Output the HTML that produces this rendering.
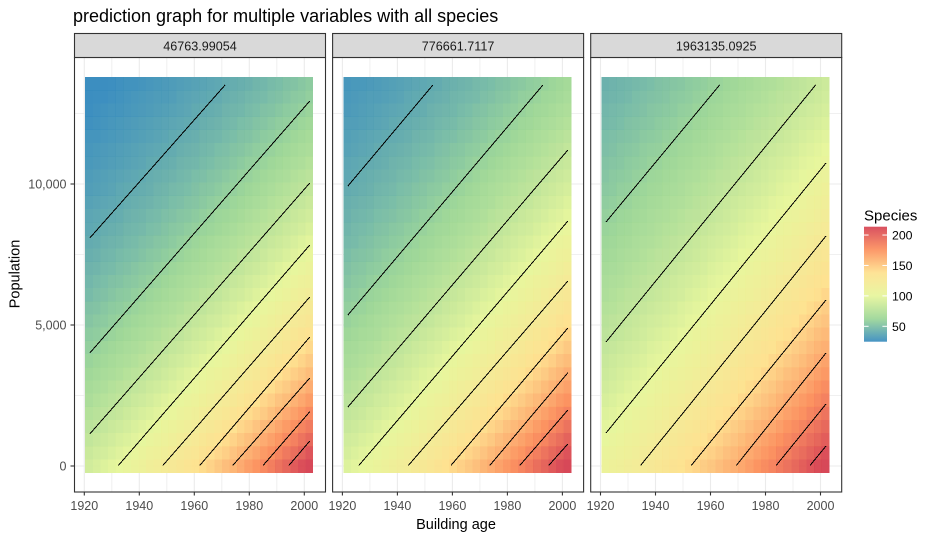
<!DOCTYPE html>
<html lang="en">
<head>
<meta charset="utf-8">
<title>prediction graph for multiple variables with all species</title>
<style>
html,body{margin:0;padding:0;background:#fff;}
svg{display:block;font-family:"Liberation Sans",Arial,sans-serif;}
</style>
</head>
<body>
<svg id="chart" width="932" height="539" viewBox="0 0 932 539" xmlns="http://www.w3.org/2000/svg">
<rect x="0" y="0" width="932" height="539" fill="#ffffff"/>
<text x="73" y="22" font-size="18" fill="#000000">prediction graph for multiple variables with all species</text>
<text x="456" y="529" font-size="14.5" text-anchor="middle" fill="#000000">Building age</text>
<text x="0" y="0" transform="translate(19.5,274) rotate(-90)" font-size="14.5" text-anchor="middle" fill="#000000">Population</text>
<text x="864" y="220.5" font-size="15" fill="#000000">Species</text>
<g id="panels"></g>
<g id="legend"></g>
</svg>
<script>
// ---------- categories and tick labels ----------
const facetLabels = ["46763.99054", "776661.7117", "1963135.0925"];
const xTicks = [1920, 1940, 1960, 1980, 2000];
const xMinorGrid = [1930, 1950, 1970, 1990];
const yTicks = [0, 5000, 10000];
const yTickLabels = ["0", "5,000", "10,000"];
const yMinorGrid = [2500, 7500, 12500];
const legendBreaks = [50, 100, 150, 200];
const colorStops = ["#3288BD", "#99D594", "#E6F598", "#FEE08B", "#FC8D59", "#D53E4F"];
const speciesMin = 24.7;
const speciesMax = 213.7;
const contourLevels = [40, 60, 80, 100, 120, 140, 160, 180, 200];
const ageStart = 1921.7;
const ageStep = 2.762;
const popStart = 0;
const popStep = 467.6;

// ---------- heatmap values, rows run from population 0 upward ----------
const speciesPanel1 = [
[89,92,95,98,101,104,107,110,114,117,121,125,129,133,137,141,145,150,155,159,164,170,175,180,186,192,198,204,210,217],
[85,88,90,93,96,99,102,105,109,112,115,119,123,127,130,134,139,143,147,152,157,162,167,172,177,183,189,194,200,207],
[81,84,86,89,92,94,97,100,104,107,110,113,117,121,124,128,132,136,141,145,150,154,159,164,169,174,180,185,191,197],
[77,80,82,85,87,90,93,96,99,102,105,108,112,115,119,122,126,130,134,138,143,147,152,157,161,167,172,177,183,188],
[74,76,78,81,83,86,89,92,94,97,100,103,107,110,113,117,121,124,128,132,136,141,145,149,154,159,164,169,174,180],
[70,73,75,77,80,82,85,87,90,93,96,99,102,105,108,112,115,119,122,126,130,134,138,143,147,152,156,161,166,171],
[67,69,71,74,76,78,81,83,86,88,91,94,97,100,103,106,110,113,117,120,124,128,132,136,140,145,149,154,158,163],
[64,66,68,70,72,75,77,79,82,84,87,90,93,96,99,102,105,108,111,115,118,122,126,130,134,138,142,147,151,156],
[61,63,65,67,69,71,73,76,78,81,83,86,88,91,94,97,100,103,106,109,113,116,120,124,128,132,136,140,144,149],
[58,60,62,64,66,68,70,72,75,77,79,82,84,87,90,92,95,98,101,104,108,111,115,118,122,126,129,134,138,142],
[56,57,59,61,63,65,67,69,71,73,76,78,80,83,86,88,91,94,97,100,103,106,109,113,116,120,124,128,132,136],
[53,55,56,58,60,62,64,66,68,70,72,74,77,79,82,84,87,89,92,95,98,101,104,108,111,114,118,122,125,129],
[51,52,54,56,57,59,61,63,65,67,69,71,73,76,78,80,83,85,88,91,94,97,100,103,106,109,113,116,120,123],
[48,50,51,53,55,56,58,60,62,64,66,68,70,72,74,77,79,81,84,87,89,92,95,98,101,104,107,111,114,118],
[46,48,49,51,52,54,55,57,59,61,63,65,67,69,71,73,75,78,80,83,85,88,91,93,96,99,102,106,109,112],
[44,45,47,48,50,51,53,55,56,58,60,62,64,66,68,70,72,74,76,79,81,84,86,89,92,95,98,101,104,107],
[42,43,45,46,48,49,50,52,54,55,57,59,61,63,65,67,69,71,73,75,78,80,82,85,88,90,93,96,99,102],
[40,41,43,44,45,47,48,50,51,53,54,56,58,60,62,64,66,68,70,72,74,76,79,81,84,86,89,92,95,98],
[38,39,41,42,43,45,46,47,49,50,52,54,55,57,59,61,62,64,66,68,71,73,75,77,80,82,85,87,90,93],
[37,38,39,40,41,43,44,45,47,48,50,51,53,54,56,58,60,62,63,65,67,70,72,74,76,79,81,84,86,89],
[35,36,37,38,39,41,42,43,44,46,47,49,50,52,53,55,57,59,60,62,64,66,68,70,73,75,77,80,82,85],
[33,34,35,36,38,39,40,41,42,44,45,47,48,49,51,53,54,56,58,59,61,63,65,67,69,72,74,76,78,81],
[32,33,34,35,36,37,38,39,41,42,43,44,46,47,49,50,52,53,55,57,59,60,62,64,66,68,70,73,75,77],
[30,31,32,33,34,35,36,37,39,40,41,42,44,45,46,48,49,51,52,54,56,58,59,61,63,65,67,69,71,74],
[29,30,31,32,33,34,35,36,37,38,39,40,42,43,44,46,47,49,50,52,53,55,57,58,60,62,64,66,68,70],
[28,28,29,30,31,32,33,34,35,36,37,39,40,41,42,44,45,46,48,49,51,52,54,56,57,59,61,63,65,67],
[26,27,28,29,30,31,32,33,34,35,36,37,38,39,40,42,43,44,46,47,49,50,52,53,55,57,58,60,62,64],
[25,26,27,28,28,29,30,31,32,33,34,35,36,37,39,40,41,42,44,45,46,48,49,51,52,54,56,57,59,61],
[24,25,25,26,27,28,29,30,31,32,32,33,35,36,37,38,39,40,42,43,44,46,47,48,50,51,53,55,56,58],
[23,24,24,25,26,27,27,28,29,30,31,32,33,34,35,36,37,38,40,41,42,43,45,46,48,49,51,52,54,56]
];
const speciesPanel2 = [
[95,98,101,103,106,110,113,116,119,123,126,130,134,138,142,146,150,154,159,163,168,173,178,183,188,194,199,205,211,217],
[91,94,97,99,102,105,108,111,114,118,121,125,128,132,136,140,144,148,152,157,161,166,171,175,181,186,191,197,202,208],
[88,90,93,95,98,101,104,107,110,113,116,120,123,127,130,134,138,142,146,150,155,159,164,168,173,178,183,189,194,200],
[84,86,89,91,94,97,100,102,105,108,112,115,118,121,125,129,132,136,140,144,148,153,157,161,166,171,176,181,186,192],
[81,83,85,88,90,93,95,98,101,104,107,110,113,117,120,123,127,131,134,138,142,146,151,155,159,164,169,174,179,184],
[77,80,82,84,87,89,92,94,97,100,103,106,109,112,115,118,122,125,129,133,137,141,145,149,153,157,162,167,172,176],
[74,76,79,81,83,86,88,91,93,96,99,102,104,107,111,114,117,120,124,127,131,135,139,143,147,151,156,160,165,169],
[71,73,75,78,80,82,84,87,89,92,95,97,100,103,106,109,112,115,119,122,126,129,133,137,141,145,149,154,158,163],
[68,70,72,74,76,79,81,83,86,88,91,93,96,99,102,105,108,111,114,117,121,124,128,131,135,139,143,147,152,156],
[66,67,69,71,73,76,78,80,82,85,87,90,92,95,98,100,103,106,109,112,116,119,122,126,130,133,137,141,145,150],
[63,65,67,68,70,73,75,77,79,81,84,86,89,91,94,96,99,102,105,108,111,114,118,121,125,128,132,136,140,144],
[60,62,64,66,68,70,72,74,76,78,80,82,85,87,90,92,95,98,101,104,107,110,113,116,119,123,126,130,134,138],
[58,60,61,63,65,67,69,71,73,75,77,79,81,84,86,89,91,94,97,99,102,105,108,111,115,118,121,125,128,132],
[56,57,59,61,62,64,66,68,70,72,74,76,78,81,83,85,88,90,93,95,98,101,104,107,110,113,117,120,123,127],
[53,55,56,58,60,61,63,65,67,69,71,73,75,77,79,82,84,86,89,92,94,97,100,103,106,109,112,115,118,122],
[51,53,54,56,57,59,61,62,64,66,68,70,72,74,76,78,81,83,85,88,90,93,96,98,101,104,107,110,113,117],
[49,51,52,53,55,57,58,60,62,63,65,67,69,71,73,75,77,80,82,84,87,89,92,94,97,100,103,106,109,112],
[47,48,50,51,53,54,56,57,59,61,63,64,66,68,70,72,74,76,79,81,83,86,88,91,93,96,99,102,105,108],
[45,47,48,49,51,52,54,55,57,58,60,62,64,65,67,69,71,73,75,78,80,82,85,87,89,92,95,97,100,103],
[43,45,46,47,49,50,51,53,54,56,58,59,61,63,65,66,68,70,72,75,77,79,81,84,86,88,91,94,96,99],
[42,43,44,45,47,48,49,51,52,54,55,57,59,60,62,64,66,67,69,71,74,76,78,80,82,85,87,90,92,95],
[40,41,42,43,45,46,47,49,50,52,53,55,56,58,59,61,63,65,67,69,71,73,75,77,79,81,84,86,89,91],
[38,39,41,42,43,44,45,47,48,49,51,52,54,55,57,59,60,62,64,66,68,70,72,74,76,78,80,83,85,87],
[37,38,39,40,41,42,44,45,46,48,49,50,52,53,55,56,58,60,61,63,65,67,69,71,73,75,77,79,82,84],
[35,36,37,38,40,41,42,43,44,46,47,48,50,51,53,54,56,57,59,61,62,64,66,68,70,72,74,76,78,81],
[34,35,36,37,38,39,40,41,42,44,45,46,48,49,50,52,53,55,56,58,60,61,63,65,67,69,71,73,75,77],
[33,33,34,35,36,37,39,40,41,42,43,44,46,47,48,50,51,53,54,56,57,59,61,63,64,66,68,70,72,74],
[31,32,33,34,35,36,37,38,39,40,41,43,44,45,46,48,49,51,52,54,55,57,58,60,62,64,65,67,69,71],
[30,31,32,33,33,34,35,36,38,39,40,41,42,43,45,46,47,48,50,51,53,54,56,58,59,61,63,64,66,68],
[29,30,30,31,32,33,34,35,36,37,38,39,40,42,43,44,45,47,48,49,51,52,54,55,57,58,60,62,64,66]
];
const speciesPanel3 = [
[108,111,113,116,119,122,125,128,131,134,137,141,144,148,151,155,159,162,166,170,175,179,183,188,192,197,202,207,212,217],
[105,107,110,112,115,118,121,124,127,130,133,136,140,143,146,150,154,157,161,165,169,173,177,182,186,191,195,200,205,210],
[101,104,106,109,112,114,117,120,123,126,129,132,135,138,142,145,149,152,156,160,164,168,172,176,180,185,189,194,198,203],
[98,100,103,105,108,111,113,116,119,122,125,128,131,134,137,141,144,148,151,155,159,162,166,170,175,179,183,188,192,197],
[95,97,100,102,105,107,110,112,115,118,121,124,127,130,133,136,139,143,146,150,154,157,161,165,169,173,177,182,186,191],
[92,94,97,99,101,104,106,109,112,114,117,120,123,126,129,132,135,138,142,145,149,152,156,160,164,168,172,176,180,185],
[89,91,93,96,98,101,103,105,108,111,113,116,119,122,125,128,131,134,137,141,144,148,151,155,159,162,166,170,175,179],
[86,88,91,93,95,97,100,102,105,107,110,112,115,118,121,124,127,130,133,136,139,143,146,150,154,157,161,165,169,173],
[84,86,88,90,92,94,97,99,101,104,106,109,112,114,117,120,123,126,129,132,135,138,142,145,149,152,156,160,164,168],
[81,83,85,87,89,91,94,96,98,101,103,105,108,111,113,116,119,122,125,128,131,134,137,141,144,148,151,155,159,162],
[78,80,82,84,86,88,91,93,95,97,100,102,105,107,110,112,115,118,121,124,127,130,133,136,139,143,146,150,154,157],
[76,78,80,82,84,86,88,90,92,94,96,99,101,104,106,109,111,114,117,120,123,126,129,132,135,138,142,145,149,152],
[74,75,77,79,81,83,85,87,89,91,94,96,98,101,103,106,108,111,113,116,119,122,125,128,131,134,137,141,144,148],
[71,73,75,77,78,80,82,84,86,88,90,93,95,97,100,102,105,107,110,112,115,118,121,124,127,130,133,136,139,143],
[69,71,72,74,76,78,80,82,84,86,88,90,92,94,97,99,101,104,106,109,112,114,117,120,123,126,129,132,135,138],
[67,68,70,72,74,75,77,79,81,83,85,87,89,91,94,96,98,100,103,105,108,111,113,116,119,122,125,128,131,134],
[65,66,68,70,71,73,75,77,78,80,82,84,86,88,91,93,95,97,100,102,105,107,110,112,115,118,121,124,127,130],
[63,64,66,67,69,71,72,74,76,78,80,82,84,86,88,90,92,94,97,99,101,104,106,109,112,114,117,120,123,126],
[61,62,64,65,67,68,70,72,74,75,77,79,81,83,85,87,89,91,94,96,98,101,103,105,108,111,113,116,119,122],
[59,60,62,63,65,66,68,70,71,73,75,77,78,80,82,84,86,88,91,93,95,97,100,102,105,107,110,112,115,118],
[57,58,60,61,63,64,66,67,69,71,72,74,76,78,80,82,84,86,88,90,92,94,97,99,101,104,106,109,111,114],
[55,56,58,59,61,62,64,65,67,68,70,72,74,75,77,79,81,83,85,87,89,91,93,96,98,100,103,105,108,111],
[53,55,56,57,59,60,62,63,65,66,68,70,71,73,75,77,78,80,82,84,86,88,91,93,95,97,100,102,105,107],
[52,53,54,56,57,58,60,61,63,64,66,67,69,71,72,74,76,78,80,82,84,86,88,90,92,94,97,99,101,104],
[50,51,53,54,55,57,58,59,61,62,64,65,67,68,70,72,74,75,77,79,81,83,85,87,89,91,94,96,98,101],
[49,50,51,52,53,55,56,57,59,60,62,63,65,66,68,70,71,73,75,77,78,80,82,84,86,88,91,93,95,97],
[47,48,49,51,52,53,54,56,57,58,60,61,63,64,66,67,69,71,72,74,76,78,80,82,84,86,88,90,92,94],
[46,47,48,49,50,51,53,54,55,56,58,59,61,62,64,65,67,68,70,72,74,75,77,79,81,83,85,87,89,91],
[44,45,46,47,49,50,51,52,53,55,56,57,59,60,62,63,65,66,68,70,71,73,75,77,78,80,82,84,86,88],
[43,44,45,46,47,48,49,51,52,53,54,56,57,58,60,61,63,64,66,67,69,71,72,74,76,78,80,82,84,86]
];

// ---------- contour lines as [building age, population] ----------
const contoursPanel1 = [
[[1922,8085],[1934,9409],[1947,10842],[1959,12166],[1971.2,13510]],
[[1922,4007],[1942,6241],[1962,8475],[1982,10709],[2002,12943]],
[[1922,1135],[1942,3360],[1962,5585],[1982,7810],[2002,10035]],
[[1932.4,20],[1950,1997],[1967,3906],[1985,5928],[2002,7837]],
[[1948.6,20],[1962,1519],[1975,2974],[1989,4540],[2002,5993]],
[[1962,20],[1972,1159],[1982,2297],[1992,3436],[2002,4574]],
[[1974,20],[1981,795],[1988,1570],[1995,2346],[2002,3121]],
[[1985,20],[1989,468],[1994,1028],[1998,1476],[2002,1926]],
[[1994.4,20],[1996,202],[1998,430],[2000,659],[2002,887]]
];
const contoursPanel2 = [
[[1922,9929],[1930,10856],[1938,11783],[1945,12595],[1952.9,13510]],
[[1922,5355],[1940,7425],[1957,9380],[1975,11450],[1992.9,13510]],
[[1922,2092],[1942,4370],[1962,6648],[1982,8928],[2002,11206]],
[[1926,20],[1945,2186],[1964,4352],[1983,6518],[2002,8688]],
[[1944,20],[1958,1599],[1973,3291],[1987,4870],[2002,6560]],
[[1959.5,20],[1970,1224],[1981,2486],[1991,3633],[2002,4894]],
[[1973.6,20],[1981,877],[1988,1688],[1995,2498],[2002,3309]],
[[1984.5,20],[1989,525],[1993,975],[1998,1536],[2002,1986]],
[[1995,20],[1997,237],[1998.5,400],[2000,563],[2002,780]]
];
const contoursPanel3 = [
[[1922,8652],[1932,9828],[1943,11122],[1953,12298],[1963.3,13510]],
[[1922,4397],[1941,6669],[1960,8942],[1979,11214],[1998.2,13510]],
[[1922,1170],[1942,3564],[1962,5958],[1982,8352],[2002,10745]],
[[1934.6,20],[1951,2000],[1968,4052],[1985,6104],[2002,8156]],
[[1953,20],[1965,1456],[1978,3013],[1990,4449],[2002,5887]],
[[1969.4,20],[1977,949],[1986,2050],[1994,3028],[2002,4007]],
[[1983.9,20],[1988,514],[1993,1116],[1998,1718],[2002,2199]],
[[1996.2,20],[1998,234],[1999,353],[2000.5,531],[2002,709]]
];
const panelValues = [speciesPanel1, speciesPanel2, speciesPanel3];
const panelContours = [contoursPanel1, contoursPanel2, contoursPanel3];

// ---------- layout and scales ----------
const NS = "http://www.w3.org/2000/svg";
const panelOffset = 258.1;
const panelLeft = 74.5, panelWidth = 251, stripTop = 33.5, stripBottom = 57.5, panelBottom = 492;
const pxPerYear = 2.75, xAt1920 = 84.3, pxPerPop = 0.0282, yAt0 = 466;
const cellW = ageStep * pxPerYear, cellH = popStep * pxPerPop;
function xScale(age, p) { return xAt1920 + p * panelOffset + (age - 1920) * pxPerYear; }
function yScale(pop) { return yAt0 - pop * pxPerPop; }
function hexRgb(h) { return [1, 3, 5].map(function (k) { return parseInt(h.substr(k, 2), 16); }); }
function colorFor(v) {
  var t = Math.max(0, Math.min(1, (v - speciesMin) / (speciesMax - speciesMin))) * (colorStops.length - 1);
  var k = Math.min(colorStops.length - 2, Math.floor(t));
  var a = hexRgb(colorStops[k]), b = hexRgb(colorStops[k + 1]), f = t - k;
  return "rgb(" + a.map(function (c, n) { return Math.round(c + (b[n] - c) * f); }).join(",") + ")";
}
function make(parent, tag, attrs, text) {
  var el = document.createElementNS(NS, tag);
  for (var key in attrs) el.setAttribute(key, attrs[key]);
  if (text !== undefined) el.textContent = text;
  parent.appendChild(el);
  return el;
}
var panelsRoot = document.getElementById("panels");
facetLabels.forEach(function (label, p) {
  var g = make(panelsRoot, "g", {});
  
  
  var left = panelLeft + p * panelOffset;

  var bg = make(g, "rect", { x: left, y: stripBottom, width: panelWidth, height: panelBottom - stripBottom, fill: "#ffffff" });
  
  

  xMinorGrid.forEach(function (t) {
    var l = make(g, "line", { x1: xScale(t, p), x2: xScale(t, p), y1: stripBottom, y2: panelBottom, stroke: "#f0f0f0", "stroke-width": 1 });
    
    
  });
  yMinorGrid.forEach(function (t) {
    var l = make(g, "line", { x1: left, x2: left + panelWidth, y1: yScale(t), y2: yScale(t), stroke: "#f0f0f0", "stroke-width": 1 });
    
    
  });
  xTicks.forEach(function (t) {
    var l = make(g, "line", { x1: xScale(t, p), x2: xScale(t, p), y1: stripBottom, y2: panelBottom, stroke: "#ebebeb", "stroke-width": 1.1 });
    
    
  });
  yTicks.forEach(function (t) {
    var l = make(g, "line", { x1: left, x2: left + panelWidth, y1: yScale(t), y2: yScale(t), stroke: "#ebebeb", "stroke-width": 1.1 });
    
    
  });

  var heat = make(g, "g", { "shape-rendering": "crispEdges" });
  
  
  panelValues[p].forEach(function (row, j) {
    row.forEach(function (v, i) {
      var age = ageStart + i * ageStep, pop = popStart + j * popStep;
      var c = make(heat, "rect", {
        x: xScale(age, p) - cellW / 2, y: yScale(pop) - cellH / 2,
        width: cellW + 0.2, height: cellH + 0.2, fill: colorFor(v), "fill-opacity": 0.95
      });
      
      
    });
  });

  panelContours[p].forEach(function (pts) {
    var d = pts.map(function (q) { return xScale(q[0], p).toFixed(1) + "," + yScale(q[1]).toFixed(1); }).join(" ");
    var line = make(g, "polyline", { points: d, fill: "none", stroke: "#000000", "stroke-width": 1, "shape-rendering": "crispEdges" });
    
    
  });

  var border = make(g, "rect", { x: left, y: stripBottom, width: panelWidth, height: panelBottom - stripBottom, fill: "none", stroke: "#333333", "stroke-width": 1.1 });
  
  

  var strip = make(g, "rect", { x: left, y: stripTop, width: panelWidth, height: stripBottom - stripTop, fill: "#d9d9d9", stroke: "#333333", "stroke-width": 1.1 });
  
  
  var stripText = make(g, "text", { x: left + panelWidth / 2, y: 50.5, "font-size": 12.6, "text-anchor": "middle", fill: "#1a1a1a" }, label);
  
  

  xTicks.forEach(function (t) {
    var m = make(g, "line", { x1: xScale(t, p), x2: xScale(t, p), y1: panelBottom, y2: panelBottom + 3.5, stroke: "#333333", "stroke-width": 1.1 });
    
    
    var tl = make(g, "text", { x: xScale(t, p), y: 510, "font-size": 12.5, "text-anchor": "middle", fill: "#4d4d4d" }, String(t));
    
    
  });
  if (p === 0) {
    yTicks.forEach(function (t, n) {
      var m = make(g, "line", { x1: left - 4, x2: left, y1: yScale(t), y2: yScale(t), stroke: "#333333", "stroke-width": 1.1 });
      
      
      var tl = make(g, "text", { x: left - 8, y: yScale(t) + 4.5, "font-size": 12.5, "text-anchor": "end", fill: "#4d4d4d" }, yTickLabels[n]);
      
      
    });
  }
});

// ---------- legend ----------
var legendRoot = document.getElementById("legend");
var barX = 864, barW = 23, barTop = 226.7, barBottom = 341.7;
function legendY(v) { return barBottom - (v - speciesMin) / (speciesMax - speciesMin) * (barBottom - barTop); }
var defs = make(legendRoot, "defs", {});
var grad = make(defs, "linearGradient", { id: "legendGradient", x1: 0, y1: 1, x2: 0, y2: 0 });
colorStops.forEach(function (c, k) {
  make(grad, "stop", { offset: k / (colorStops.length - 1), "stop-color": c });
});
var bar = make(legendRoot, "rect", { x: barX, y: barTop, width: barW, height: barBottom - barTop, fill: "url(#legendGradient)", "fill-opacity": 0.9 });


legendBreaks.forEach(function (b) {
  var y = legendY(b);
  var t1 = make(legendRoot, "line", { x1: barX, x2: barX + 4.6, y1: y, y2: y, stroke: "#ffffff", "stroke-width": 1 });
  
  
  var t2 = make(legendRoot, "line", { x1: barX + barW - 4.6, x2: barX + barW, y1: y, y2: y, stroke: "#ffffff", "stroke-width": 1 });
  
  
  var lab = make(legendRoot, "text", { x: 892, y: y + 4.5, "font-size": 12.3, fill: "#000000" }, String(b));
  
  
});
</script>
</body>
</html>
